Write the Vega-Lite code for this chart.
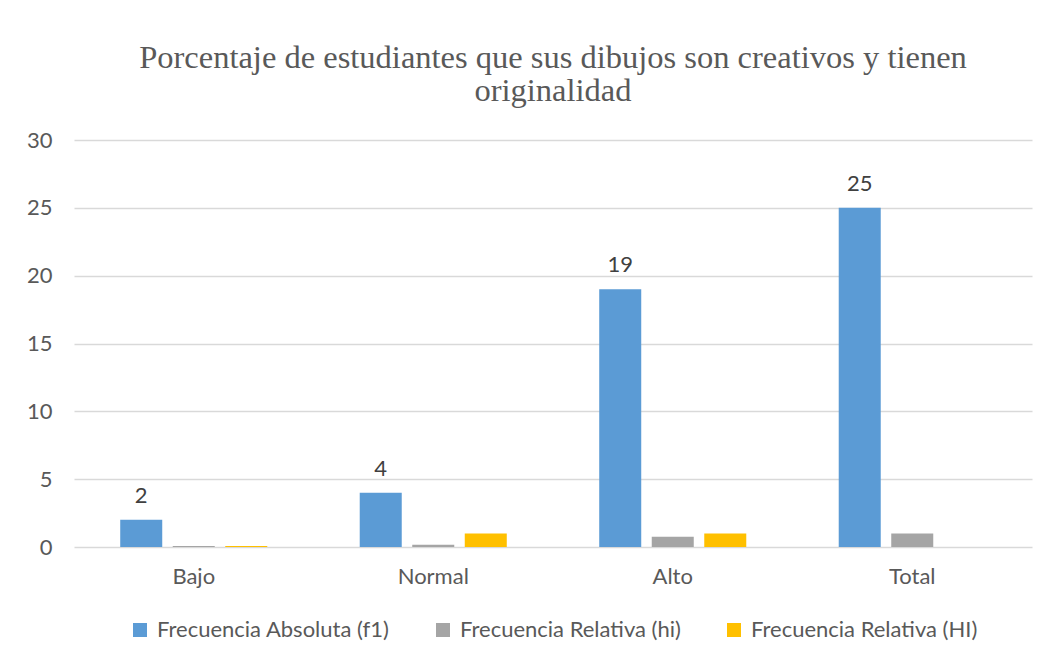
{
  "$schema": "https://vega.github.io/schema/vega-lite/v6.json",
  "width": 958,
  "height": 407,
  "autosize": "none",
  "padding": {"left": 74, "top": 140, "right": 12, "bottom": 114},
  "background": "white",
  "view": {"stroke": null},
  "config": {"legend": {"layout": {"bottom": {"anchor": "middle"}}}},
  "title": {
    "text": ["Porcentaje de estudiantes que sus dibujos son creativos y tienen", "originalidad"],
    "font": "Liberation Serif",
    "fontSize": 32.5,
    "fontWeight": "normal",
    "color": "#595959",
    "lineHeight": 33,
    "offset": 22,
    "anchor": "middle"
  },
  "data": {
    "values": [
      {"cat": "Bajo", "serie": "Frecuencia Absoluta (f1)", "value": 2},
      {"cat": "Bajo", "serie": "Frecuencia Relativa (hi)", "value": 0.08},
      {"cat": "Bajo", "serie": "Frecuencia Relativa (HI)", "value": 0.08},
      {"cat": "Normal", "serie": "Frecuencia Absoluta (f1)", "value": 4},
      {"cat": "Normal", "serie": "Frecuencia Relativa (hi)", "value": 0.16},
      {"cat": "Normal", "serie": "Frecuencia Relativa (HI)", "value": 1},
      {"cat": "Alto", "serie": "Frecuencia Absoluta (f1)", "value": 19},
      {"cat": "Alto", "serie": "Frecuencia Relativa (hi)", "value": 0.76},
      {"cat": "Alto", "serie": "Frecuencia Relativa (HI)", "value": 1},
      {"cat": "Total", "serie": "Frecuencia Absoluta (f1)", "value": 25},
      {"cat": "Total", "serie": "Frecuencia Relativa (hi)", "value": 1},
      {"cat": "Total", "serie": "Frecuencia Relativa (HI)", "value": 0}
    ]
  },
  "encoding": {
    "x": {
      "field": "cat",
      "type": "nominal",
      "sort": ["Bajo", "Normal", "Alto", "Total"],
      "scale": {"paddingInner": 0.386, "paddingOuter": 0.193},
      "axis": {
        "title": null,
        "labelAngle": 0,
        "domain": false,
        "ticks": false,
        "labelFont": "Lato",
        "labelFontSize": 22,
        "labelColor": "#595959",
        "labelPadding": 19
      }
    },
    "xOffset": {
      "field": "serie",
      "type": "nominal",
      "scale": {
        "domain": ["Frecuencia Absoluta (f1)", "Frecuencia Relativa (hi)", "Frecuencia Relativa (HI)"],
        "paddingInner": 0.2,
        "paddingOuter": 0
      }
    },
    "y": {
      "field": "value",
      "type": "quantitative",
      "scale": {"domain": [0, 30]},
      "axis": {
        "title": null,
        "values": [0, 5, 10, 15, 20, 25, 30],
        "domain": false,
        "ticks": false,
        "grid": true,
        "gridColor": "#D9D9D9",
        "gridWidth": 1.3,
        "labelFont": "Lato",
        "labelFontSize": 22,
        "labelColor": "#595959",
        "labelPadding": 22
      }
    }
  },
  "layer": [
    {
      "mark": {"type": "bar"},
      "encoding": {
        "color": {
          "field": "serie",
          "type": "nominal",
          "scale": {
            "domain": ["Frecuencia Absoluta (f1)", "Frecuencia Relativa (hi)", "Frecuencia Relativa (HI)"],
            "range": ["#5B9BD5", "#A5A5A5", "#FFC000"]
          },
          "legend": {
            "title": null,
            "orient": "bottom",
            "direction": "horizontal",
            "symbolType": "square",
            "symbolSize": 196,
            "symbolStrokeWidth": 0,
            "labelFont": "Lato",
            "labelFontSize": 22,
            "labelColor": "#595959",
            "labelOffset": 6,
            "columnPadding": 42,
            "labelLimit": 400,
            "offset": 32
          }
        }
      }
    },
    {
      "transform": [{"filter": "datum.serie === 'Frecuencia Absoluta (f1)'"}],
      "mark": {
        "type": "text",
        "dy": -24,
        "baseline": "middle",
        "font": "Lato",
        "fontSize": 22,
        "color": "#404040"
      },
      "encoding": {
        "text": {"field": "value", "type": "quantitative"}
      }
    }
  ]
}
